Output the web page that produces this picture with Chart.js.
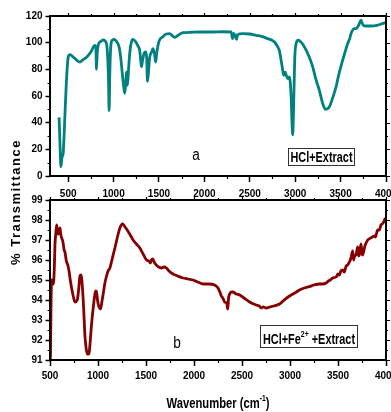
<!DOCTYPE html>
<html>
<head>
<meta charset="utf-8">
<script src="https://cdn.jsdelivr.net/npm/chart.js@4.4.1/dist/chart.umd.min.js"></script>
<style>
  html, body { margin: 0; padding: 0; background: #fff; }
  #wrap { position: relative; width: 391px; height: 412px; overflow: hidden; }
  #wrap canvas { position: absolute; left: 0; top: 0; }
</style>
</head>
<body>
<div id="wrap">
  <canvas id="spectrumA" width="391" height="412"></canvas>
  <canvas id="spectrumB" width="391" height="412"></canvas>
</div>
<script>
// FTIR spectrum (a): HCl + extract  (wavenumber in cm^-1, % transmittance)
const wavenumberA = [400,412,420,432,445,455,464,480,500,519,560,600,629,660,702,750,793,805,812,820,830,860,885,910,930,945,951,958,970,988,1010,1031,1060,1080,1093,1110,1123,1135,1142,1148,1153,1165,1178,1195,1214,1240,1265,1288,1300,1307,1318,1336,1355,1365,1373,1382,1398,1420,1434,1450,1464,1475,1500,1544,1580,1618,1650,1673,1700,1764,1850,1950,2100,2200,2295,2310,2325,2340,2355,2365,2424,2497,2570,2640,2698,2740,2772,2808,2826,2845,2863,2874,2890,2900,2918,2936,2955,2965,2973,2982,2995,3010,3036,3070,3101,3150,3193,3230,3266,3300,3332,3355,3376,3410,3450,3480,3512,3545,3578,3600,3615,3632,3651,3670,3690,3706,3725,3735,3750,3780,3835,3900,3945,3990];
const transmittanceA = [44,20,7,14,17,30,45,70,89,91,89,86.5,85.5,87,89,93,98,96,80,92,98,101,102,101,95,70,49,75,98,102,102.5,101,97,88,79,68,62,70,78,74,68,80,92,100,102.5,101,98,94,86,82,86,92,93,88,71,76,89,93,95.5,92,85.5,92,101,104.5,106.5,106.8,105,104,105,107.5,107.8,108,108,108.2,108,103,107,105,102.5,106,106.8,106.5,105.5,104.5,103,102,100.5,96.8,94,86.8,79.3,75.5,77.8,76,73,74.3,60,40,31,50,88,99.3,101.8,100,96.8,90,81.8,72,64.3,55,50,50.5,51.8,58,66.8,76,84.3,92,99.3,103,106.8,109.3,110.5,110.5,112,114.3,116.8,115,113,112.5,112.5,113,114,115];

// FTIR spectrum (b): HCl + Fe2+ + extract
const wavenumberB = [500,505,510,517,525,535,545,552,560,569,578,586,595,604,612,621,630,638,647,656,665,673,682,690,700,708,725,742,760,784,800,812,822,829,838,846,856,864,876,888,900,909,920,933,950,968,978,985,995,1002,1015,1027,1040,1054,1070,1089,1105,1124,1150,1176,1200,1228,1256,1275,1297,1330,1366,1400,1436,1470,1505,1530,1545,1557,1570,1590,1626,1660,1690,1713,1740,1782,1830,1886,1940,1990,2040,2094,2150,2215,2250,2270,2285,2300,2320,2340,2352,2360,2371,2390,2405,2440,2475,2520,2579,2620,2649,2680,2700,2720,2753,2787,2830,2891,2940,2995,3050,3099,3150,3203,3250,3307,3340,3376,3400,3420,3445,3480,3500,3515,3530,3549,3565,3585,3600,3619,3635,3653,3662,3670,3690,3705,3714,3722,3740,3750,3757,3780,3809,3840,3878,3890,3913,3930,3948,3970,3993];
const transmittanceB = [91.0,91.2,93.5,95.0,94.9,94.8,95.6,96.8,97.3,97.75,97.4,97.3,97.5,97.6,97.3,97.1,97.0,96.8,96.5,96.4,96.1,95.9,95.8,95.65,95.4,95.1,94.6,94.2,93.9,94.0,94.6,95.2,95.25,95.1,94.6,94.0,93.0,92.2,91.6,91.3,91.3,91.4,92.0,92.8,93.6,94.3,94.45,94.4,94.0,93.8,93.6,93.55,93.9,94.3,94.8,95.2,95.45,95.6,96.1,96.6,97.1,97.6,97.8,97.7,97.55,97.3,97.0,96.8,96.6,96.3,96.0,95.95,95.85,96.0,96.05,95.85,95.67,95.6,95.65,95.6,95.45,95.3,95.2,95.1,95.05,95.0,94.9,94.8,94.8,94.75,94.6,94.4,94.2,94.1,93.9,93.85,93.55,94.1,94.3,94.4,94.4,94.3,94.25,94.1,93.9,93.8,93.75,93.7,93.6,93.65,93.6,93.65,93.7,93.8,94.0,94.2,94.35,94.5,94.6,94.67,94.75,94.8,94.8,94.85,94.95,95.0,95.1,95.15,95.3,95.25,95.45,95.5,95.4,95.7,95.75,95.9,96.1,96.45,96.0,96.15,96.3,96.65,96.2,96.25,96.8,96.3,96.25,96.7,97.0,97.1,97.2,97.15,97.5,97.5,97.75,97.85,98.1];

// Axis ticks
const xTicksA = [500,1000,1500,2000,2500,3000,3500,4000];
const yTicksA = [0,20,40,60,80,100,120];
const xTicksB = [500,1000,1500,2000,2500,3000,3500,4000];
const yTicksB = [91,92,93,94,95,96,97,98,99];

// Text
const panelTagA = 'a';
const panelTagB = 'b';
const legendA = [['HCl+Extract', 0]];
const legendB = [['HCl+Fe', 0], ['2+', 1], [' +Extract', 0]];
const yTitle = '% Transmittance';
const xTitle = [['Wavenumber (cm', 0], ['-1', 1], [')', 0]];

const FONT = "'Liberation Sans Narrow', 'Liberation Sans', Arial, sans-serif";
Chart.defaults.color = '#000';
Chart.defaults.font.family = FONT;

// draws a row of text runs (normal / superscript) centred on cx, condensed to a given width
function drawRuns(ctx, runs, cx, baseline, size, supSize, width) {
  const fonts = runs.map(r => r[1] ? `bold ${supSize}px ${FONT}` : `bold ${size}px ${FONT}`);
  let total = 0;
  runs.forEach((r, i) => { ctx.font = fonts[i]; total += ctx.measureText(r[0]).width; });
  const k = width ? Math.min(1, width / total) : 1;
  ctx.save();
  ctx.translate(cx, baseline);
  ctx.scale(k, 1);
  let x = -total / 2;
  ctx.textAlign = 'left';
  ctx.textBaseline = 'alphabetic';
  runs.forEach((r, i) => {
    ctx.font = fonts[i];
    ctx.fillText(r[0], x, r[1] ? -size * 0.5 : 0);
    x += ctx.measureText(r[0]).width;
  });
  ctx.restore();
}

function minorValues(ticks, min, max) {
  const out = [];
  for (let i = 0; i < ticks.length; i++) {
    const step = i > 0 ? ticks[i] - ticks[i - 1] : ticks[1] - ticks[0];
    const m = ticks[i] - step / 2;
    if (m >= min && m <= max) out.push(m);
  }
  return out;
}

// frame, minor ticks, mirrored ticks, panel tag and legend box
function panelDecor(cfg) {
  return {
    id: 'panelDecor',
    afterDraw(chart) {
      const ctx = chart.ctx;
      const a = chart.chartArea;
      const xs = chart.scales.x, ys = chart.scales.y;
      ctx.save();
      ctx.strokeStyle = '#000';
      ctx.fillStyle = '#000';
      ctx.lineWidth = 1.2;
      ctx.beginPath();
      minorValues(cfg.xTicks, xs.min, xs.max).forEach(v => {
        const px = Math.round(xs.getPixelForValue(v)) + 0.5;
        ctx.moveTo(px, a.bottom); ctx.lineTo(px, a.bottom + 3);
        ctx.moveTo(px, a.top); ctx.lineTo(px, a.top - 2);
      });
      cfg.xTicks.forEach(v => {
        const px = Math.round(xs.getPixelForValue(v)) + 0.5;
        ctx.moveTo(px, a.top); ctx.lineTo(px, a.top - 3);
      });
      minorValues(cfg.yTicks, ys.min, ys.max).forEach(v => {
        const py = Math.round(ys.getPixelForValue(v)) + 0.5;
        ctx.moveTo(a.left, py); ctx.lineTo(a.left - 2.5, py);
        ctx.moveTo(a.right, py); ctx.lineTo(a.right + 2, py);
      });
      cfg.yTicks.forEach(v => {
        const py = Math.round(ys.getPixelForValue(v)) + 0.5;
        ctx.moveTo(a.right, py); ctx.lineTo(a.right + 4, py);
      });
      ctx.stroke();
      ctx.lineWidth = 2;
      ctx.strokeRect(a.left, a.top, a.right - a.left, a.bottom - a.top);
      // panel tag
      ctx.save();
      ctx.translate(cfg.tagX, cfg.tagY);
      ctx.scale(0.85, 1);
      ctx.font = `16px ${FONT}`;
      ctx.textAlign = 'center';
      ctx.textBaseline = 'alphabetic';
      ctx.fillText(cfg.tag, 0, 0);
      ctx.restore();
      // legend box
      const b = cfg.box;
      ctx.fillStyle = '#fff';
      ctx.fillRect(b.x, b.y, b.w, b.h);
      ctx.lineWidth = 1;
      ctx.strokeStyle = '#333';
      ctx.strokeRect(b.x + 0.5, b.y + 0.5, b.w, b.h);
      ctx.fillStyle = '#000';
      drawRuns(ctx, cfg.legend, b.x + b.w / 2 + 0.5, cfg.legendBase, 14, 9, cfg.legendWidth);
      if (cfg.extra) cfg.extra(ctx, chart);
      ctx.restore();
    }
  };
}

function makeSpectrum(id, xsArr, ysArr, color, o) {
  return new Chart(document.getElementById(id), {
    type: 'line',
    data: {
      datasets: [{
        data: xsArr.map((x, i) => ({ x: x, y: ysArr[i] })),
        borderColor: color,
        borderWidth: 2.8,
        pointRadius: 0,
        cubicInterpolationMode: 'monotone',
        fill: false
      }]
    },
    options: {
      responsive: false,
      animation: false,
      devicePixelRatio: 1,
      layout: { padding: o.padding },
      plugins: { legend: { display: false }, tooltip: { enabled: false } },
      scales: {
        x: {
          type: 'linear', min: o.xMin, max: o.xMax,
          afterBuildTicks: s => { s.ticks = o.xTicks.map(v => ({ value: v })); },
          afterFit: s => { s.height = o.xHeight; s.paddingLeft = 0; s.paddingRight = 0; },
          grid: { drawOnChartArea: false, drawTicks: true, tickLength: 6, tickWidth: 1.5, tickColor: '#000' },
          border: { display: false },
          ticks: { font: { size: 10, weight: 'bold' }, color: '#000', padding: o.xPad, maxRotation: 0, autoSkip: false, callback: v => String(v) }
        },
        y: {
          min: o.yMin, max: o.yMax,
          afterBuildTicks: s => { s.ticks = o.yTicks.map(v => ({ value: v })); },
          afterFit: s => { s.width = 50; },
          grid: { drawOnChartArea: false, drawTicks: true, tickLength: 4.5, tickWidth: 1.5, tickColor: '#000' },
          border: { display: false },
          ticks: { font: { size: 10, weight: 'bold' }, color: '#000', padding: 3, autoSkip: false, callback: v => String(v) }
        }
      }
    },
    plugins: [panelDecor(o.decor)]
  });
}

makeSpectrum('spectrumA', wavenumberA, transmittanceA, '#008080', {
  padding: { top: 16, right: 5, left: 0, bottom: 212 },
  xMin: 300, xMax: 4000, yMin: 0, yMax: 120,
  xTicks: xTicksA, yTicks: yTicksA, xHeight: 24, xPad: 6,
  decor: {
    xTicks: xTicksA, yTicks: yTicksA,
    tag: panelTagA, tagX: 196, tagY: 160,
    box: { x: 288, y: 148, w: 66, h: 17 },
    legend: legendA, legendBase: 161.5, legendWidth: 62
  }
});

makeSpectrum('spectrumB', wavenumberB, transmittanceB, '#850000', {
  padding: { top: 200, right: 5, left: 0, bottom: 0 },
  xMin: 500, xMax: 4000, yMin: 91, yMax: 99,
  xTicks: xTicksB, yTicks: yTicksB, xHeight: 52, xPad: 4,
  decor: {
    xTicks: xTicksB, yTicks: yTicksB,
    tag: panelTagB, tagX: 177, tagY: 348,
    box: { x: 260, y: 325, w: 97, h: 22 },
    legend: legendB, legendBase: 343.5, legendWidth: 92,
    extra(ctx) {
      // shared axis titles
      ctx.fillStyle = '#000';
      drawRuns(ctx, xTitle, 218, 408, 15, 9, 103);
      ctx.save();
      ctx.translate(16, 202);
      ctx.rotate(-Math.PI / 2);
      ctx.font = `bold 13px ${FONT}`;
      ctx.letterSpacing = '1.5px';
      ctx.textAlign = 'center';
      ctx.textBaseline = 'middle';
      ctx.fillText(yTitle, 0, 0);
      ctx.restore();
    }
  }
});
</script>
</body>
</html>
